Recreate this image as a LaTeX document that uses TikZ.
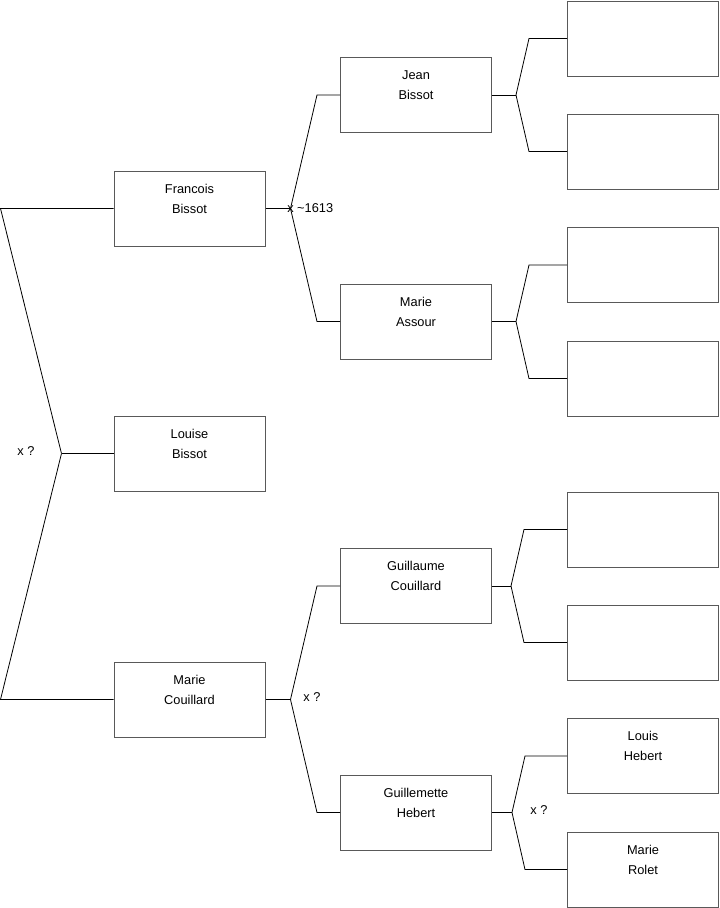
\documentclass[tikz,border=0pt]{standalone}
\usepackage{fontspec}
\setmainfont{Liberation Sans}
\usetikzlibrary{positioning}
\tikzset{
  person/.style={draw=black!65,line width=0.75pt,minimum width=113.25pt,minimum height=56.25pt,
    inner sep=0pt,align=center,font=\fontsize{9.6}{15}\selectfont},
  link/.style={line width=0.6pt},
  mlbl/.style={font=\fontsize{9.6}{11}\selectfont,inner sep=0pt},
}
\begin{document}
\begin{tikzpicture}[x=0.75pt,y=-0.75pt]
  \useasboundingbox (0,0) rectangle (719,908);
  % generation 1
  \node[person] (fb) at (189.5,208.5) {Francois\\Bissot\\~};
  \node[person] (lb) at (189.5,453.5) {Louise\\Bissot\\~};
  \node[person] (mc) at (189.5,699.5) {Marie\\Couillard\\~};
  % generation 2
  \node[person] (jb) at (416,95) {Jean\\Bissot\\~};
  \node[person] (ma) at (416,321.5) {Marie\\Assour\\~};
  \node[person] (gc) at (416,586) {Guillaume\\Couillard\\~};
  \node[person] (gh) at (416,812.5) {Guillemette\\Hebert\\~};
  % generation 3
  \foreach \n/\y in {g1/38.5, g2/151.5, g3/265, g4/378.5, g5/529.5, g6/642.5}
    \node[person] (\n) at (643,\y) {};
  \node[person] (lh) at (643,756) {Louis\\Hebert\\~};
  \node[person] (mr) at (643,869.5) {Marie\\Rolet\\~};

  % forks
  \foreach \p/\u/\d/\dx/\g in {fb/jb/ma/25/23, mc/gc/gh/25/23, jb/g1/g2/24/38,
                               ma/g3/g4/24/38, gc/g5/g6/19/43, gh/lh/mr/20/42}{
    \draw[link] (\p.east) -- ++(\dx,0) coordinate (\p-fk);
    \draw[link] (\u.west) -- ++(-\g,0) -- (\p-fk);
    \draw[link] (\d.west) -- ++(-\g,0) -- (\p-fk);
  }
  \draw[link] (lb.west) -- ++(-52,0) coordinate (lb-fk);
  \draw[link] (fb.west) -- ++(-113,0) -- (lb-fk);
  \draw[link] (mc.west) -- ++(-113,0) -- (lb-fk);

  \node[mlbl,anchor=west] (m1) at (287,208) {x \textasciitilde 1613};
  \node[mlbl] (m0) at (26,451) {x ?};
  \node[mlbl] (m2) at (312,697) {x ?};
  \node[mlbl] (m3) at (539,810) {x ?};
\end{tikzpicture}
\end{document}
